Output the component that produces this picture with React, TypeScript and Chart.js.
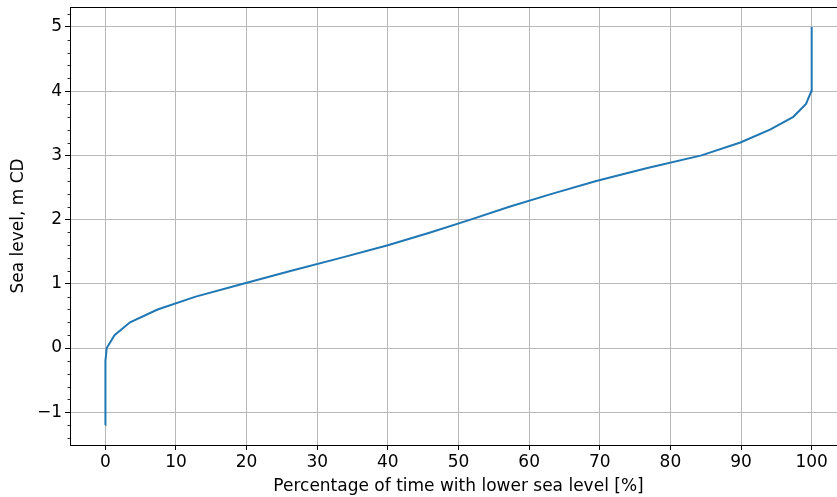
import { useEffect, useRef } from 'react';
import { Chart, registerables } from 'chart.js';

Chart.register(...registerables);

// Sea level (m CD) and percentage of time with lower sea level
const seaLevel = [-1.2, -1.0, -0.8, -0.6, -0.4, -0.2, 0.0, 0.2, 0.4, 0.6, 0.8, 1.0, 1.2, 1.4, 1.6, 1.8, 2.0, 2.2, 2.4, 2.6, 2.8, 3.0, 3.2, 3.4, 3.6, 3.8, 4.0, 4.2, 4.4, 4.6, 4.8, 5.0];
const timeBelowPct = [0, 0, 0, 0.01, 0.02, 0.05, 0.2, 1.3, 3.5, 7.4, 12.8, 19.5, 26.2, 33.2, 40.0, 46.0, 51.7, 57.2, 63.2, 69.5, 76.6, 84.4, 89.9, 94.1, 97.4, 99.2, 99.95, 100, 100, 100, 100, 100];

const xTicks = [0, 10, 20, 30, 40, 50, 60, 70, 80, 90, 100];
const yTicks = [-1, 0, 1, 2, 3, 4, 5];
const yMinorTicks = [-1.4, -1.2, -0.8, -0.6, -0.4, -0.2, 0.2, 0.4, 0.6, 0.8, 1.2, 1.4, 1.6, 1.8, 2.2, 2.4, 2.6, 2.8, 3.2, 3.4, 3.6, 3.8, 4.2, 4.4, 4.6, 4.8, 5.2];

const xLabel = 'Percentage of time with lower sea level [%]';
const yLabel = 'Sea level, m CD';

const FONT = "'DejaVu Sans', sans-serif";
const FS = 17;

const framePlugin = {
  id: 'frame',
  afterDraw(chart: any) {
    const { ctx, chartArea } = chart;
    const { left, top, right, bottom } = chartArea;
    const ys = chart.scales.y;
    ctx.save();
    ctx.strokeStyle = '#000';
    ctx.lineWidth = 1;
    const l = Math.round(left) + 0.5;
    const t = Math.round(top) + 0.5;
    ctx.strokeRect(l, t, Math.round(right) - Math.round(left), Math.round(bottom) - Math.round(top));
    ctx.lineWidth = 0.8;
    for (const v of yMinorTicks) {
      const py = Math.round(ys.getPixelForValue(v)) + 0.5;
      if (py < top || py > bottom) continue;
      ctx.beginPath();
      ctx.moveTo(l, py);
      ctx.lineTo(l - 3, py);
      ctx.stroke();
    }
    ctx.restore();
  },
};

export default function App() {
  const ref = useRef<HTMLCanvasElement | null>(null);

  useEffect(() => {
    if (!ref.current) return;
    const points = seaLevel.map((y, i) => ({ x: timeBelowPct[i], y }));
    const chart = new Chart(ref.current, {
      type: 'line',
      data: {
        datasets: [
          {
            data: points,
            borderColor: '#1f77b4',
            borderWidth: 2,
            pointRadius: 0,
            tension: 0,
            fill: false,
          },
        ],
      },
      options: {
        animation: false,
        responsive: false,
        layout: { padding: { left: 0, top: 7, right: 13, bottom: 0 } },
        plugins: { legend: { display: false }, tooltip: { enabled: false } },
        scales: {
          x: {
            type: 'linear',
            min: -5,
            max: 105,
            afterBuildTicks: (s: any) => {
              s.ticks = xTicks.map((v) => ({ value: v }));
            },
            afterFit: (s: any) => {
              s.height = 52;
              s.paddingLeft = 0;
              s.paddingRight = 0;
            },
            grid: {
              color: '#b8b8b8',
              lineWidth: 1,
              tickColor: '#000',
              tickLength: 5,
              tickWidth: 1,
            },
            border: { display: false },
            ticks: {
              color: '#000',
              font: { family: FONT, size: FS },
              padding: 2,
              maxRotation: 0,
              autoSkip: false,
              callback: (v: any) => String(v),
            },
            title: {
              display: true,
              text: xLabel,
              color: '#000',
              font: { family: FONT, size: FS },
              padding: { top: 0, bottom: 0 },
            },
          },
          y: {
            type: 'linear',
            min: -1.51,
            max: 5.31,
            afterBuildTicks: (s: any) => {
              s.ticks = yTicks.map((v) => ({ value: v }));
            },
            afterFit: (s: any) => {
              s.width = 70;
              s.paddingTop = 0;
              s.paddingBottom = 0;
            },
            grid: {
              color: '#b8b8b8',
              lineWidth: 1,
              tickColor: '#000',
              tickLength: 5,
              tickWidth: 1,
            },
            border: { display: false },
            ticks: {
              color: '#000',
              font: { family: FONT, size: FS },
              padding: 3,
              autoSkip: false,
              callback: (v: any) => String(v).replace('-', '\u2212'),
            },
            title: {
              display: true,
              text: yLabel,
              color: '#000',
              font: { family: FONT, size: FS },
              padding: { top: 8, bottom: 0 },
            },
          },
        },
      },
      plugins: [framePlugin],
    });
    return () => chart.destroy();
  }, []);

  return (
    <div
      style={{
        position: 'fixed',
        left: 0,
        top: 0,
        width: 837,
        height: 497,
        overflow: 'hidden',
        background: '#fff',
      }}
    >
      <canvas ref={ref} width={860} height={497} style={{ display: 'block' }} />
    </div>
  );
}
